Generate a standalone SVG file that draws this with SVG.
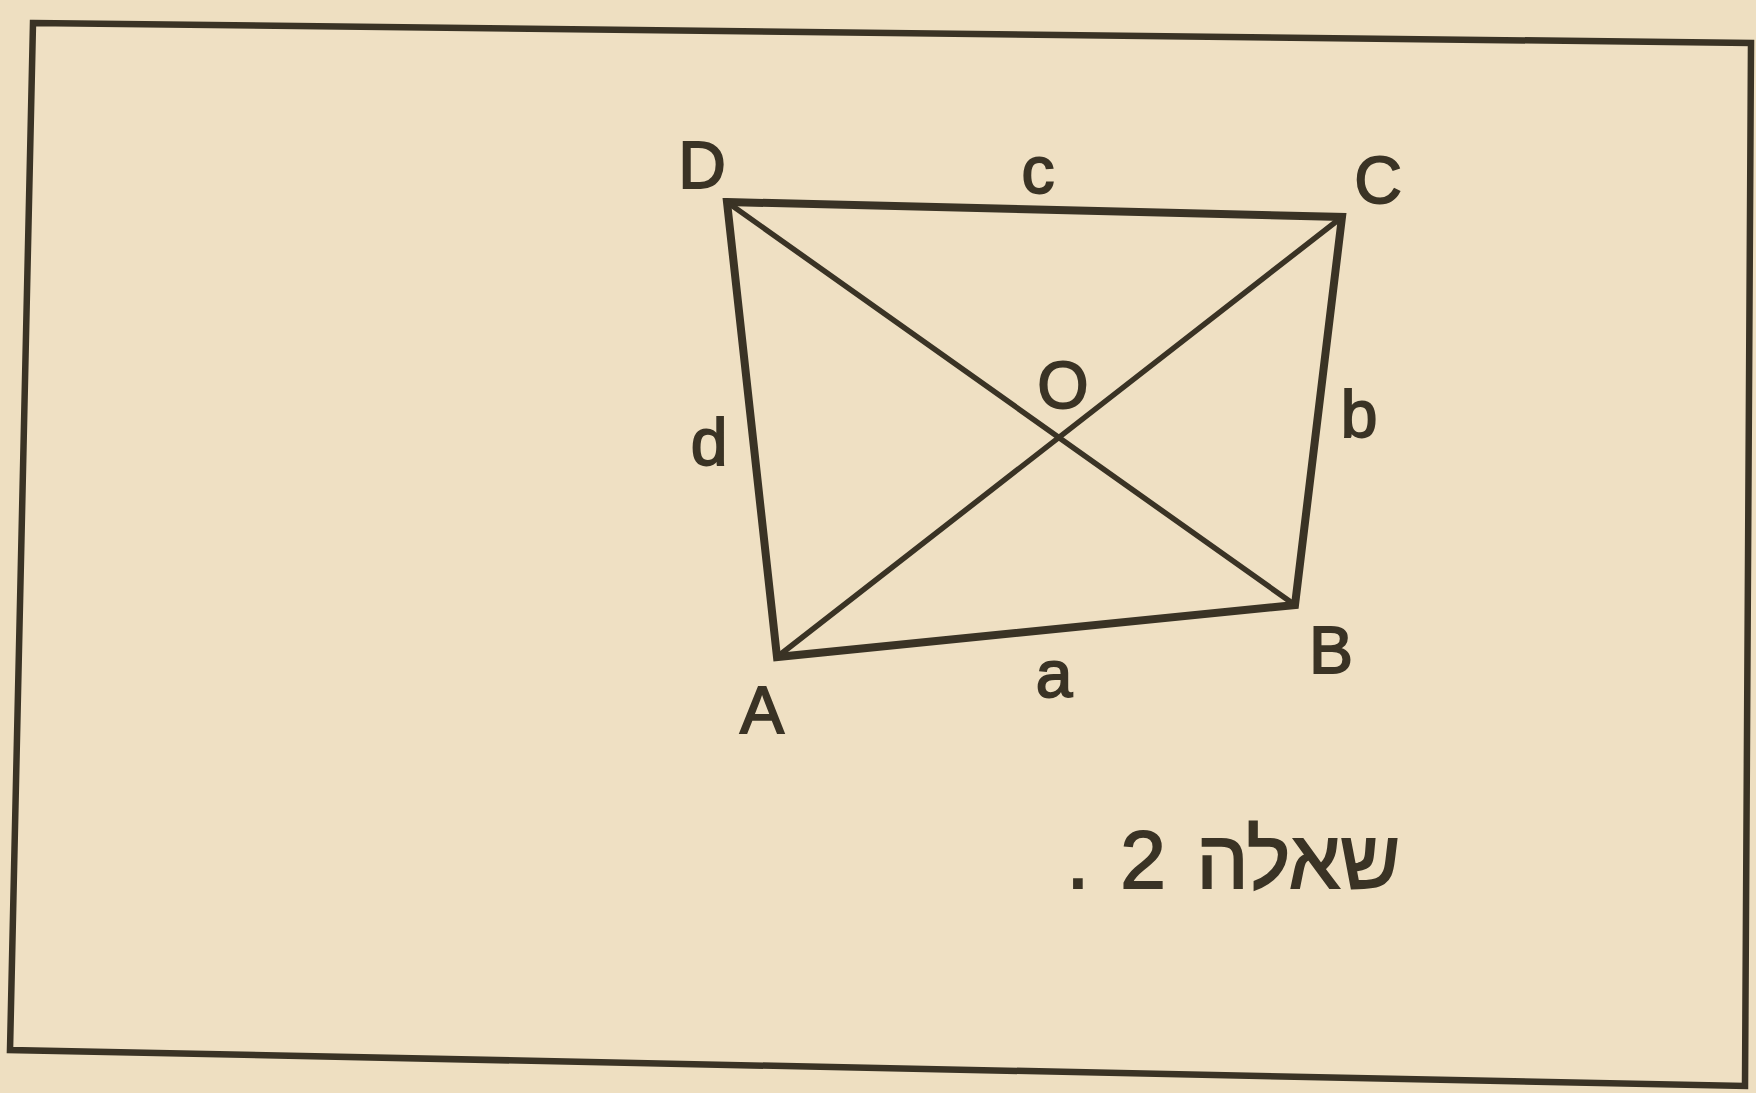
<svg xmlns="http://www.w3.org/2000/svg" width="1756" height="1093" viewBox="0 0 1756 1093">
<style>
.lbl{font-family:"Liberation Sans","DejaVu Sans",sans-serif;font-size:66px;fill:#3a3325;stroke:#3a3325;stroke-width:1.8px;text-anchor:middle}
.cap{font-family:"Liberation Sans","DejaVu Sans",sans-serif;font-size:82px;fill:#3a3325;stroke:#3a3325;stroke-width:1.8px;word-spacing:8px}
.edge{stroke:#3a3325;stroke-width:8;fill:none;stroke-linejoin:miter;stroke-linecap:round}
.diag{stroke:#3a3325;stroke-width:5.5;fill:none;stroke-linecap:round}
</style>
<rect x="0" y="0" width="1756" height="1093" fill="#eedfc1"/>
<polygon points="33,23 1751,43 1745,1086 10,1050" fill="#efe0c3" stroke="#3a3325" stroke-width="6.5"/>
<g id="connectors">
<polygon class="edge" points="727,202 1342,217 1295,605 777,657"/>
<line class="diag" x1="727" y1="202" x2="1295" y2="605"/>
<line class="diag" x1="777" y1="657" x2="1342" y2="217"/>
</g>
<g id="node-D"><text class="lbl" x="702" y="188">D</text></g>
<g id="node-C"><text class="lbl" x="1378" y="203">C</text></g>
<g id="node-B"><text class="lbl" x="1331" y="673">B</text></g>
<g id="node-A"><text class="lbl" x="762" y="733">A</text></g>
<g id="node-O"><text class="lbl" x="1063" y="408">O</text></g>
<g id="side-c"><text class="lbl" x="1038" y="193">c</text></g>
<g id="side-d"><text class="lbl" x="709" y="465">d</text></g>
<g id="side-b"><text class="lbl" x="1359" y="437">b</text></g>
<g id="side-a"><text class="lbl" x="1054" y="697">a</text></g>
<g id="caption"><text class="cap" x="1400" y="888" direction="rtl" text-anchor="start">שאלה 2 .</text></g>
</svg>
